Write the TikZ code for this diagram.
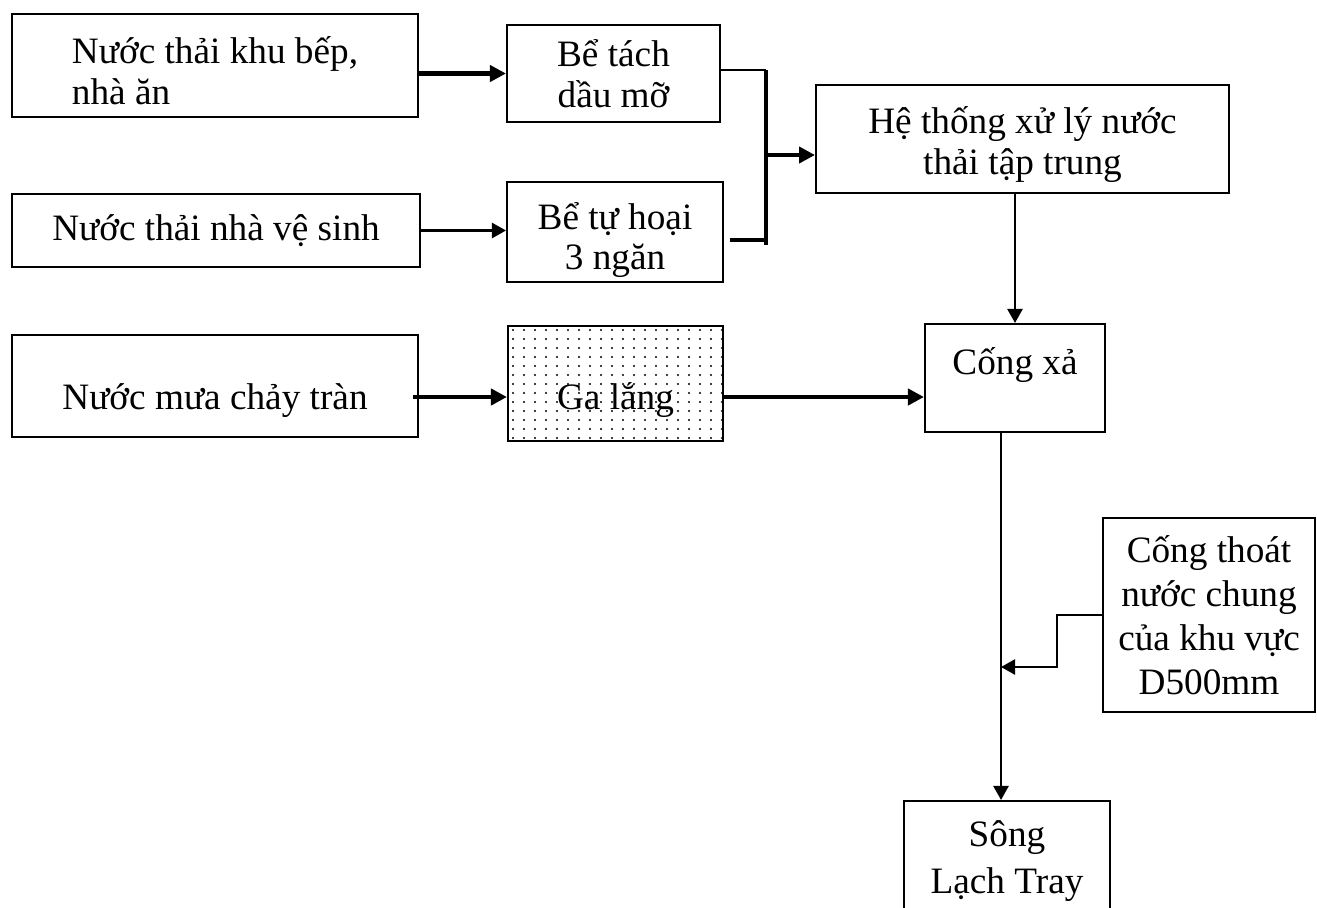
\documentclass[tikz,border=0pt]{standalone}
\usepackage{fontspec}
\setmainfont{Liberation Serif}
\usetikzlibrary{positioning,arrows.meta,backgrounds}

\begin{document}
\begin{tikzpicture}[x=0.02cm, y=-0.02cm, font=\fontsize{21.2}{23}\selectfont,
  box/.style={draw, line width=1.2pt, inner sep=2pt, align=center},
  flow/.style={line width=1.4pt, -{Triangle[length=2.8mm,width=3mm]}},
  flowthick/.style={line width=2.3pt, -{Triangle[length=3.2mm,width=3.2mm]}}]
\useasboundingbox (0,0) rectangle (1317,907);
% sources and pre-treatment
\node[box, minimum width=8.12cm, minimum height=2.06cm,
  label={[align=left, yshift=-0.1cm]center:Nước thải khu bếp,\\nhà ăn}] (khubep) at (215,65.5) {};
\node[box, minimum width=4.26cm, minimum height=1.94cm] (tachdau) at (613.5,73.5) {Bể tách\\dầu mỡ};
\node[box, minimum width=8.16cm, minimum height=1.46cm] (vesinh) at (216,230.5) {Nước thải nhà vệ sinh};
\node[box, minimum width=4.32cm, minimum height=2.0cm,
  label={[align=center, yshift=-0.16cm]center:Bể tự hoại\\3 ngăn}] (tuhoai) at (615,232) {};
\node[box, minimum width=8.26cm, minimum height=2.16cm,
  label={[align=center, yshift=-0.11cm]center:Hệ thống xử lý nước\\thải tập trung}] (xuly) at (1022.5,139) {};
\node[box, minimum width=8.12cm, minimum height=2.04cm, text height=1.06cm, text depth=0.14cm] (muatran) at (215,386) {Nước mưa chảy tràn};
\node[box, minimum width=4.3cm, minimum height=2.3cm, text height=1.16cm, text depth=0.12cm] (galang) at (615.5,383.5) {Ga lắng};
% outlet
\node[box, minimum width=3.6cm, minimum height=2.16cm, text height=0.5cm, text depth=0.66cm] (congxa) at (1015,378) {Cống xả};
\node[box, minimum width=4.24cm, minimum height=3.88cm, font=\fontsize{21.2}{25}\selectfont] (congthoat) at (1209,615) {Cống thoát\\nước chung\\của khu vực\\D500mm};
\node[box, minimum width=4.12cm, minimum height=2.4cm, font=\fontsize{21.2}{26.5}\selectfont] (song) at (1007,861) {Sông\\Lạch Tray};
% dotted fill of the settling pit
\begin{scope}[on background layer]
  \clip (galang.south west) rectangle (galang.north east);
  \foreach \x in {513,524,...,722}
    \foreach \y in {330,339,...,440}
      \fill (\x,\y) circle (0.6pt);
\end{scope}
% junction
\coordinate (jtop) at (766,70);
\coordinate (jmid) at (766,155);
\coordinate (jlow) at (766,240);
\coordinate (jend) at (766,245);
\coordinate (merge) at (1001,667);
% connectors
\draw[flowthick] (khubep.east |- tachdau) -- (tachdau.west);
\draw[flow] (vesinh.east) -- (vesinh.east -| tuhoai.west);
\draw[line width=1.2pt] (tachdau.east |- jtop) -- (jtop);
\draw[line width=2.3pt] (jtop) -- (jend);
\draw[line width=2.3pt] ([xshift=0.12cm]tuhoai.east |- jlow) -- (jlow);
\draw[flowthick] (jmid) -- (xuly.west |- jmid);
\draw[flowthick] ([xshift=-0.12cm, yshift=-0.22cm]muatran.east) -- ([yshift=-0.22cm]muatran.east -| galang.west);
\draw[flowthick] ([yshift=-0.27cm]galang.east) -- ([yshift=-0.27cm]galang.east -| congxa.west);
\draw[flow] (xuly.south -| congxa) -- (congxa.north);
\draw[flow] ([xshift=-0.28cm]congxa.south) -- ([xshift=-0.28cm]congxa.south |- song.north);
\draw[flow] (congthoat.west) -- ++(-45,0) |- (merge);
\end{tikzpicture}
\end{document}
